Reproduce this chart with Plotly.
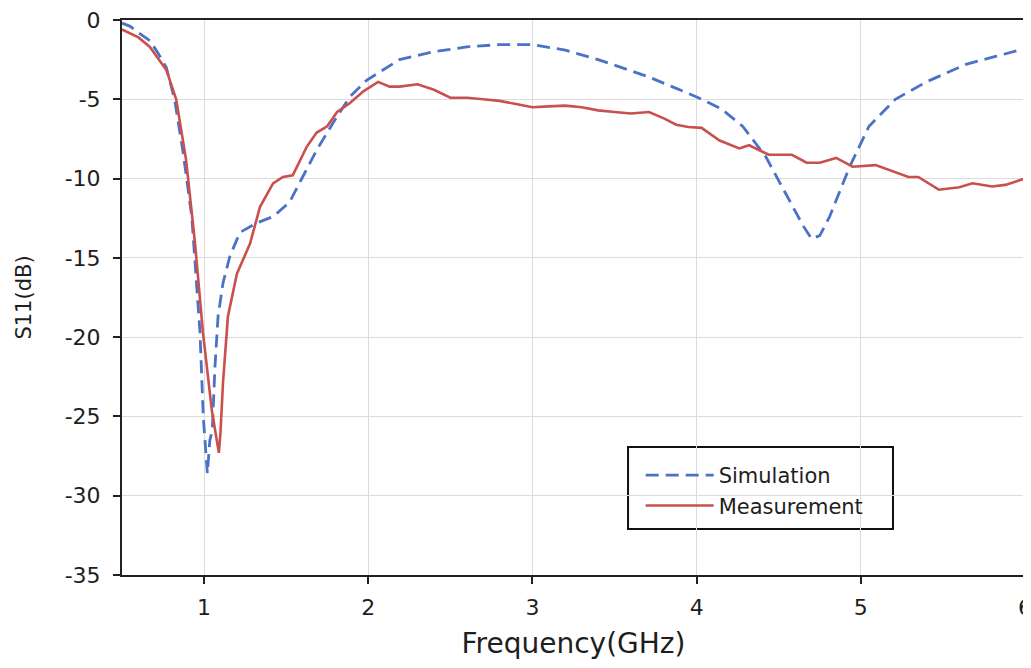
import plotly.graph_objects as go

sim_freq = [0.5, 0.55, 0.6, 0.67, 0.72, 0.77, 0.82, 0.87, 0.925, 0.955, 0.975, 0.995, 1.02, 1.035,
            1.05, 1.066, 1.085, 1.115, 1.157, 1.218, 1.32, 1.42, 1.52, 1.6, 1.686, 1.785, 1.887,
            1.99, 2.19, 2.4, 2.6, 2.8, 3.0, 3.2, 3.4, 3.6, 3.71, 3.85, 4.0, 4.15, 4.28, 4.42,
            4.56, 4.65, 4.70, 4.75, 4.81, 4.87, 4.93, 5.05, 5.21, 5.40, 5.64, 5.82, 6.0]
sim_s11 = [-0.2, -0.4, -0.8, -1.3, -2.1, -3.0, -5.0, -8.2, -12.4, -16.6, -19.7, -25.0, -28.6, -26.5,
           -25.9, -21.9, -18.7, -16.6, -14.9, -13.4, -12.8, -12.4, -11.5, -9.9, -8.2, -6.5, -4.85,
           -3.8, -2.5, -2.0, -1.7, -1.55, -1.55, -1.9, -2.5, -3.2, -3.6, -4.2, -4.85, -5.6, -6.7, -8.6,
           -11.3, -13.0, -13.8, -13.6, -12.4, -10.8, -9.3, -6.7, -5.0, -3.9, -2.8, -2.3, -1.8]

meas_freq = [0.5, 0.6, 0.67, 0.75, 0.77, 0.83, 0.89, 0.944, 0.993, 1.047, 1.07, 1.09, 1.1, 1.115,
             1.145, 1.2, 1.28, 1.34, 1.42, 1.48, 1.54, 1.625, 1.686, 1.75, 1.81, 1.887, 1.97,
             2.06, 2.13, 2.19, 2.3, 2.4, 2.5, 2.6, 2.7, 2.8, 2.9, 3.0, 3.1, 3.2, 3.3, 3.4, 3.5,
             3.6, 3.71, 3.8, 3.876, 3.95, 4.03, 4.14, 4.26, 4.32, 4.44, 4.58, 4.67, 4.75, 4.85,
             4.95, 5.09, 5.29, 5.35, 5.475, 5.6, 5.68, 5.80, 5.88, 6.0]
meas_s11 = [-0.6, -1.1, -1.7, -2.9, -3.15, -5.0, -8.8, -14.0, -19.7, -24.6, -26.0, -27.3, -26.0, -22.9,
            -18.7, -16.0, -14.1, -11.8, -10.3, -9.9, -9.8, -8.0, -7.1, -6.7, -5.8, -5.25, -4.5,
            -3.9, -4.2, -4.2, -4.05, -4.4, -4.9, -4.9, -5.0, -5.1, -5.3, -5.5, -5.45, -5.4, -5.5, -5.7, -5.8,
            -5.9, -5.8, -6.2, -6.6, -6.75, -6.8, -7.6, -8.1, -7.9, -8.5, -8.5, -9.0, -9.0, -8.7,
            -9.25, -9.15, -9.9, -9.9, -10.7, -10.55, -10.3, -10.5, -10.4, -10.0]

x_ticks = [1, 2, 3, 4, 5, 6]
x_labels = ["1", "2", "3", "4", "5", "6"]
y_ticks = [0, -5, -10, -15, -20, -25, -30, -35]
y_labels = ["0", "-5", "-10", "-15", "-20", "-25", "-30", "-35"]

font_family = "DejaVu Sans, Liberation Sans, Arial, sans-serif"
txt = "#1e1e1e"

fig = go.Figure()
fig.add_trace(go.Scatter(x=sim_freq, y=sim_s11, mode="lines", name="Simulation",
                         line=dict(color="#4a72c6", width=2.8, dash="13px,7px")))
fig.add_trace(go.Scatter(x=meas_freq, y=meas_s11, mode="lines", name="Measurement",
                         line=dict(color="#c9504d", width=2.6)))

# legend frame
fig.add_shape(type="rect", xref="paper", yref="paper",
              x0=0.5604, x1=0.8538, y0=0.0829, y1=0.2306,
              line=dict(color="#111", width=2), fillcolor="white", layer="below")

# the page places the figure 8px from the top-left corner of the window
fig.update_layout(
    width=1023, height=660,
    margin=dict(l=114, r=6, t=12, b=93),
    paper_bgcolor="white", plot_bgcolor="rgba(0,0,0,0)",
    font=dict(family=font_family, color=txt, size=22),
    showlegend=True,
    legend=dict(x=0.5744, y=0.2162, xanchor="left", yanchor="top",
                bgcolor="rgba(0,0,0,0)", borderwidth=0,
                font=dict(size=21, family=font_family, color=txt),
                itemwidth=68, tracegroupgap=0),
    xaxis=dict(range=[0.5, 6], tickvals=x_ticks, ticktext=x_labels, ticks="outside", ticklen=7,
               tickwidth=2, tickcolor="#222", showline=True, linecolor="#222", linewidth=2,
               mirror=True, showgrid=True, gridcolor="#dcdcdc", gridwidth=1, zeroline=False,
               ticklabelstandoff=5, automargin=False, ticklabeloverflow="allow",
               title=dict(text="Frequency(GHz)", font=dict(size=28, family=font_family, color=txt),
                          standoff=14)),
    yaxis=dict(range=[-35, 0], tickvals=y_ticks, ticktext=y_labels, ticks="outside", ticklen=7,
               tickwidth=2, tickcolor="#222", showline=True, linecolor="#222", linewidth=2,
               mirror=True, showgrid=True, gridcolor="#dcdcdc", gridwidth=1, zeroline=False,
               ticklabelstandoff=8, automargin=False, ticklabeloverflow="allow",
               title=dict(text="S11(dB)", font=dict(size=21, family=font_family, color=txt),
                          standoff=27)),
)

fig.write_html("out.html")
